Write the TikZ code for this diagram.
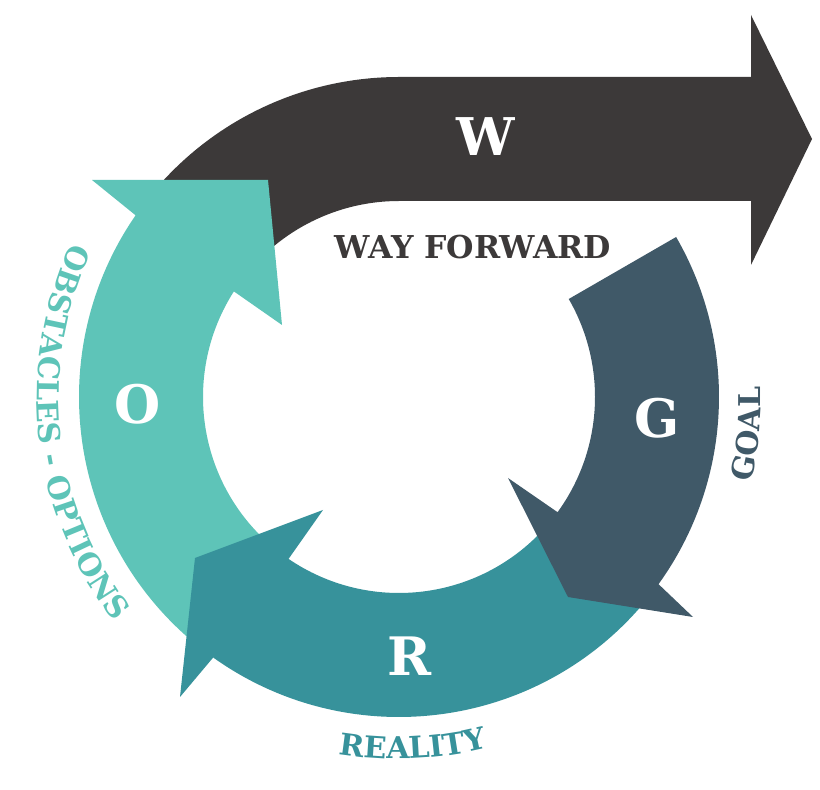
\documentclass[tikz,border=0pt]{standalone}
\usepackage{fontspec}
\setmainfont{DejaVu Serif}
\usetikzlibrary{decorations.text,calc}
\definecolor{wcol}{HTML}{3C3939}
\definecolor{gcol}{HTML}{405968}
\definecolor{rcol}{HTML}{37929B}
\definecolor{ocol}{HTML}{5EC4B8}
\newcommand\lblfont{\bfseries\fontsize{30}{30}\selectfont}
\tikzset{
  bigletter/.style={text=white, inner sep=0pt, font=\bfseries\fontsize{53}{53}\selectfont},
}
\begin{document}
\begin{tikzpicture}[x=1pt,y=1pt]
\useasboundingbox (0,0) rectangle (820,790);
\fill[white] (0,0) rectangle (820,790);
\coordinate (C) at (399,393);

% W : way forward arrow
\fill[wcol] ($(C)+(143:320)$) arc[start angle=143, end angle=90, radius=320]
  -- (751,713) -- (751,775) -- (812,651) -- (751,525) -- (751,589)
  -- ($(C)+(90:196)$) arc[start angle=90, end angle=143, radius=196] -- cycle;

% O : obstacles arrow
\fill[ocol] ($(C)+(229:320)$) arc[start angle=229, end angle=145.4, radius=320]
  -- (92,610) -- (268,610) -- (282,465)
  -- ($(C)+(147.4:196)$) arc[start angle=147.4, end angle=228, radius=196] -- cycle;

% R : reality arrow
\fill[rcol] ($(C)+(-41:320)$) arc[start angle=-41, end angle=-125.5, radius=320]
  -- (180,93) -- (195,232) -- (323,280)
  -- ($(C)+(-124.3:196)$) arc[start angle=-124.3, end angle=-44, radius=196] -- cycle;

% G : goal arrow
\fill[gcol] ($(C)+(30:320)$) arc[start angle=30, end angle=-35.8, radius=320]
  -- (693,173) -- (568,193) -- (508,312)
  -- ($(C)+(-36:196)$) arc[start angle=-36, end angle=30, radius=196] -- cycle;

% letters
\node[bigletter, font=\bfseries\fontsize{52}{52}\selectfont] (w) at (486,653) {W};
\node[bigletter] (o) at (138,386) {O};
\node[bigletter] (g) at (657,372) {G};
\node[bigletter] (r) at (410,134) {R};
\node[text=wcol, inner sep=0pt, font=\bfseries\fontsize{31.5}{31.5}\selectfont] (wf) at (473,543) {WAY FORWARD};

% curved labels
\path[decorate, decoration={text along path, text align=center,
  text={|\lblfont\color{rcol}|REALITY}}]
  ($(C)+(-127.7:362)$) arc[start angle=-127.7, end angle=-47.7, radius=362];
\path[decorate, decoration={text along path, text align=center,
  text={|\lblfont\color{gcol}|GOAL}}]
  ($(C)+(-46:362)$) arc[start angle=-46, end angle=34, radius=362];
\path[decorate, decoration={text along path, text align=center,
  text={|\lblfont\color{ocol}|OBSTACLES - OPTIONS}}]
  ($(C)+(141.5:362)$) arc[start angle=141.5, end angle=231.5, radius=362];
\end{tikzpicture}
\end{document}
